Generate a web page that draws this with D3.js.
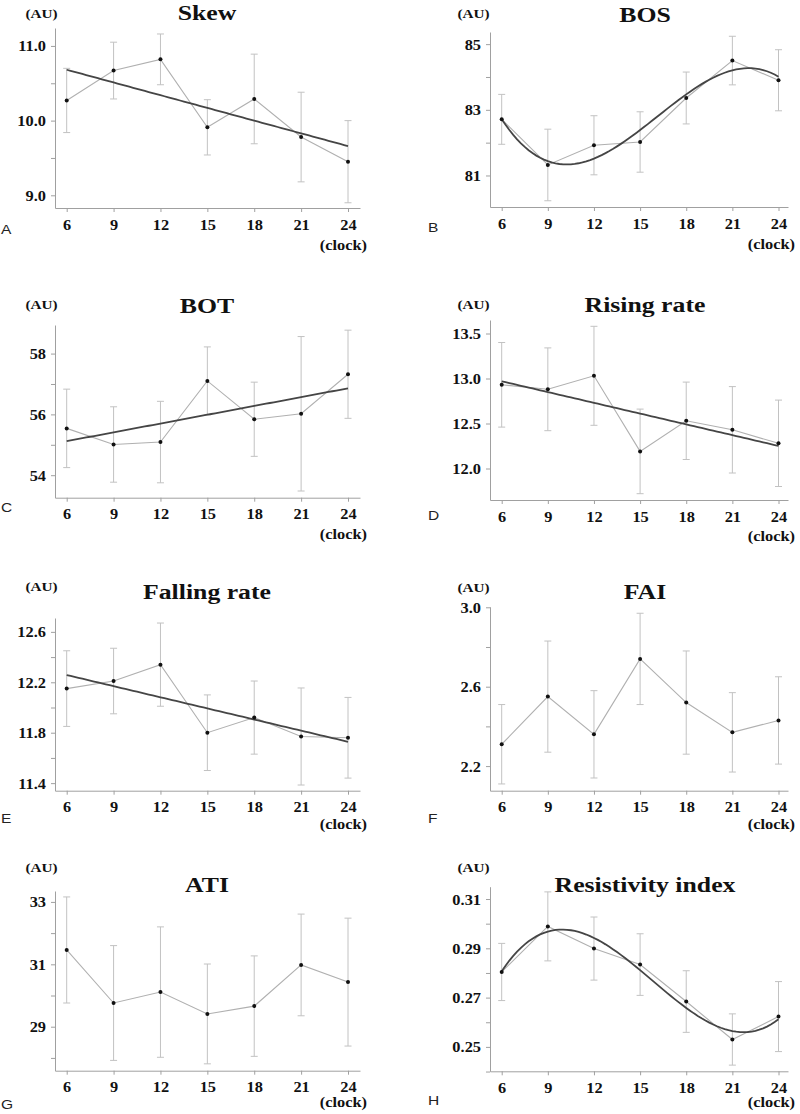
<!DOCTYPE html>
<html>
<head>
<meta charset="utf-8">
<script src="https://cdn.jsdelivr.net/npm/d3@7"></script>
<style>
  html, body { margin: 0; padding: 0; background: #fff; }
  svg { display: block; }
</style>
</head>
<body>
<div id="chart"></div>
<script>
// ---------- data ----------
const hours = [6, 9, 12, 15, 18, 21, 24];

const skewMean = [10.27, 10.67, 10.82, 9.91, 10.29, 9.78, 9.45];
const skewSD   = [0.43, 0.38, 0.34, 0.37, 0.60, 0.60, 0.55];

const bosMean  = [82.71, 81.32, 81.92, 82.02, 83.36, 84.50, 83.90];
const bosSD    = [0.76, 1.09, 0.90, 0.92, 0.79, 0.74, 0.93];

const botMean  = [55.54, 55.01, 55.09, 57.10, 55.84, 56.02, 57.32];
const botSD    = [1.29, 1.24, 1.34, 1.12, 1.22, 2.54, 1.45];

const riseMean = [12.93, 12.88, 13.03, 12.19, 12.53, 12.43, 12.28];
const riseSD   = [0.47, 0.46, 0.55, 0.47, 0.43, 0.48, 0.48];

const fallMean = [12.15, 12.21, 12.34, 11.80, 11.92, 11.77, 11.76];
const fallSD   = [0.30, 0.26, 0.33, 0.30, 0.29, 0.385, 0.32];

const faiMean  = [2.31, 2.55, 2.36, 2.74, 2.52, 2.37, 2.43];
const faiSD    = [0.20, 0.28, 0.22, 0.23, 0.26, 0.20, 0.22];

const atiMean  = [31.46, 29.76, 30.11, 29.41, 29.66, 30.98, 30.43];
const atiSD    = [1.70, 1.84, 2.09, 1.60, 1.61, 1.63, 2.05];

const riMean   = [0.2804, 0.2989, 0.2899, 0.2834, 0.2684, 0.2530, 0.2623];
const riSD     = [0.0116, 0.0140, 0.0128, 0.0125, 0.0125, 0.0104, 0.0142];

const titles  = ["Skew", "BOS", "BOT", "Rising rate", "Falling rate", "FAI", "ATI", "Resistivity index"];
const letters = ["A", "B", "C", "D", "E", "F", "G", "H"];
const means   = [skewMean, bosMean, botMean, riseMean, fallMean, faiMean, atiMean, riMean];
const sds     = [skewSD, bosSD, botSD, riseSD, fallSD, faiSD, atiSD, riSD];
const fitDegree = [1, 3, 1, 1, 1, 0, 0, 3];   // 0 = no fitted curve

const majorTicks = [
  [9, 10, 11], [81, 83, 85], [54, 56, 58], [12.0, 12.5, 13.0, 13.5],
  [11.4, 11.8, 12.2, 12.6], [2.2, 2.6, 3.0], [29, 31, 33], [0.25, 0.27, 0.29, 0.31]
];
const minorTicks = [
  [9.5, 10.5], [82, 84], [55, 57], [],
  [11.6, 12.0, 12.4], [2.4, 2.8], [28, 30, 32], [0.24, 0.26, 0.28, 0.30]
];
const tickFormats = [".1f", "d", "d", ".1f", ".1f", ".1f", "d", ".2f"];
const yDomains = [
  [8.83, 11.24], [80.04, 85.37], [53.26, 58.94], [11.65, 13.65],
  [11.34, 12.71], [2.076, 3.003], [27.59, 33.35], [0.2401, 0.3150]
];

// ---------- layout ----------
const W = 800, H = 1114;
const cols = [
  { axisX: 55,  end: 360, t6: 66.7,  t24: 348,   titleX: 207, auX: 41.5,  letterX: 1 },
  { axisX: 490, end: 788, t6: 501.7, t24: 778.5, titleX: 645, auX: 473.5, letterX: 428 }
];
const rowsGeom = [
  { top: 28,    bottom: 208,    titleY: 20,    auY: 17.5,  letterY: 234,  clockDy: 42 },
  { top: 32,    bottom: 207,    titleY: 21.5,  auY: 17.5,  letterY: 232,  clockDy: 42 },
  { top: 325,   bottom: 497.7,  titleY: 313.3, auY: 308.5, letterY: 512,  clockDy: 41 },
  { top: 320,   bottom: 500,    titleY: 311.7, auY: 308.8, letterY: 520,  clockDy: 41 },
  { top: 618,   bottom: 790.7,  titleY: 599.3, auY: 591.2, letterY: 823,  clockDy: 38 },
  { top: 606.7, bottom: 790.7,  titleY: 599.3, auY: 591.8, letterY: 823,  clockDy: 38 },
  { top: 891,   bottom: 1070.7, titleY: 891.7, auY: 872.2, letterY: 1109, clockDy: 36 },
  { top: 886.7, bottom: 1071.3, titleY: 891.7, auY: 872.2, letterY: 1105, clockDy: 36 }
];

const SERIF = "'Liberation Serif', 'Times New Roman', serif";
const SANS = "'Liberation Sans', Arial, sans-serif";
const SX = 1.17;

const svg = d3.select("#chart").append("svg").attr("width", W).attr("height", H);

function txt(g, x, y, s, size, anchor, opts = {}) {
  return g.append("text")
    .attr("transform", `translate(${x},${y}) scale(${opts.sx || SX},1)`)
    .attr("text-anchor", anchor)
    .style("font-family", opts.family || SERIF)
    .style("font-weight", opts.weight || "bold")
    .style("font-size", size + "px")
    .style("fill", opts.fill || "#111")
    .text(s);
}

// least squares polynomial fit (centered x)
function polyFit(xs, ys, deg) {
  const n = deg + 1;
  const xc = xs.map(x => (x - 15) / 9);
  const A = Array.from({ length: n }, () => new Array(n + 1).fill(0));
  for (let r = 0; r < n; r++) {
    for (let c = 0; c < n; c++) A[r][c] = d3.sum(xc, x => Math.pow(x, r + c));
    A[r][n] = d3.sum(xc, (x, i) => Math.pow(x, r) * ys[i]);
  }
  for (let i = 0; i < n; i++) {
    let p = i;
    for (let k = i + 1; k < n; k++) if (Math.abs(A[k][i]) > Math.abs(A[p][i])) p = k;
    [A[i], A[p]] = [A[p], A[i]];
    for (let k = i + 1; k < n; k++) {
      const f = A[k][i] / A[i][i];
      for (let j = i; j <= n; j++) A[k][j] -= f * A[i][j];
    }
  }
  const coef = new Array(n).fill(0);
  for (let i = n - 1; i >= 0; i--) {
    let s = A[i][n];
    for (let j = i + 1; j < n; j++) s -= A[i][j] * coef[j];
    coef[i] = s / A[i][i];
  }
  return x => coef.reduce((acc, c, k) => acc + c * Math.pow((x - 15) / 9, k), 0);
}

titles.forEach((title, i) => {
  const col = cols[i % 2];
  const rg = rowsGeom[i];
  const g = svg.append("g");

  const ppu = (col.t24 - col.t6) / 18;
  const x = d3.scaleLinear()
    .domain([6 - (col.t6 - col.axisX) / ppu, 24 + (col.end - col.t24) / ppu])
    .range([col.axisX, col.end]);
  const y = d3.scaleLinear().domain(yDomains[i]).range([rg.bottom, rg.top]);

  const fmt = d3.format(tickFormats[i]);
  const major = majorTicks[i];

  // y axis
  const yAx = g.append("g").attr("transform", `translate(${col.axisX},0)`)
    .call(d3.axisLeft(y)
      .tickValues(major.concat(minorTicks[i]))
      .tickSize(4).tickSizeOuter(0)
      .tickFormat(d => major.some(m => Math.abs(m - d) < 1e-9) ? fmt(d) : ""));
  yAx.selectAll("path, line").attr("stroke", "#a0a0a0").attr("stroke-width", 1);
  yAx.selectAll("text")
    .attr("x", null).attr("dy", null)
    .attr("transform", `translate(-9,0) scale(${SX},1)`)
    .attr("dominant-baseline", "central")
    .style("font-family", SERIF).style("font-weight", "bold")
    .style("font-size", "14px").style("fill", "#111");

  // x axis
  const xAx = g.append("g").attr("transform", `translate(0,${rg.bottom})`)
    .call(d3.axisBottom(x).tickValues(hours).tickSize(4).tickSizeOuter(0).tickFormat(d3.format("d")));
  xAx.selectAll("path, line").attr("stroke", "#a0a0a0").attr("stroke-width", 1);
  xAx.selectAll("text")
    .attr("y", null).attr("dy", null)
    .attr("transform", `translate(0,21.5) scale(${SX},1)`)
    .style("font-family", SERIF).style("font-weight", "bold")
    .style("font-size", "14px").style("fill", "#111");

  // labels
  txt(g, col.titleX, rg.titleY, title, 22, "middle");
  txt(g, col.auX, rg.auY, "(AU)", 13, "middle");
  txt(g, col.end + 7, rg.bottom + rg.clockDy, "(clock)", 14, "end");
  txt(g, col.letterX, rg.letterY, letters[i], 13.5, "start", { family: SANS, weight: "normal", fill: "#222", sx: 1.15 });

  const m = means[i], sd = sds[i];
  const pts = hours.map((h, k) => ({ h, v: m[k], s: sd[k] }));

  // error bars
  const eb = g.append("g").attr("stroke", "#c2c2c2").attr("stroke-width", 1).attr("fill", "none");
  pts.forEach(p => {
    const cx = x(p.h), y1 = y(p.v + p.s), y2 = y(p.v - p.s);
    eb.append("line").attr("x1", cx).attr("x2", cx).attr("y1", y1).attr("y2", y2);
    eb.append("line").attr("x1", cx - 3.5).attr("x2", cx + 3.5).attr("y1", y1).attr("y2", y1);
    eb.append("line").attr("x1", cx - 3.5).attr("x2", cx + 3.5).attr("y1", y2).attr("y2", y2);
  });

  // data line
  g.append("path").datum(pts)
    .attr("fill", "none").attr("stroke", "#b0b0b0").attr("stroke-width", 1.1)
    .attr("d", d3.line().x(p => x(p.h)).y(p => y(p.v)));

  // fitted curve
  if (fitDegree[i] > 0) {
    const f = polyFit(hours, m, fitDegree[i]);
    const xs = d3.range(6, 24.001, 0.25);
    g.append("path").datum(xs)
      .attr("fill", "none").attr("stroke", "#454545").attr("stroke-width", 1.8)
      .attr("d", d3.line().x(h => x(h)).y(h => y(f(h))));
  }

  // points
  g.append("g").selectAll("circle").data(pts).join("circle")
    .attr("cx", p => x(p.h)).attr("cy", p => y(p.v)).attr("r", 2)
    .attr("fill", "#111");
});
</script>
</body>
</html>
